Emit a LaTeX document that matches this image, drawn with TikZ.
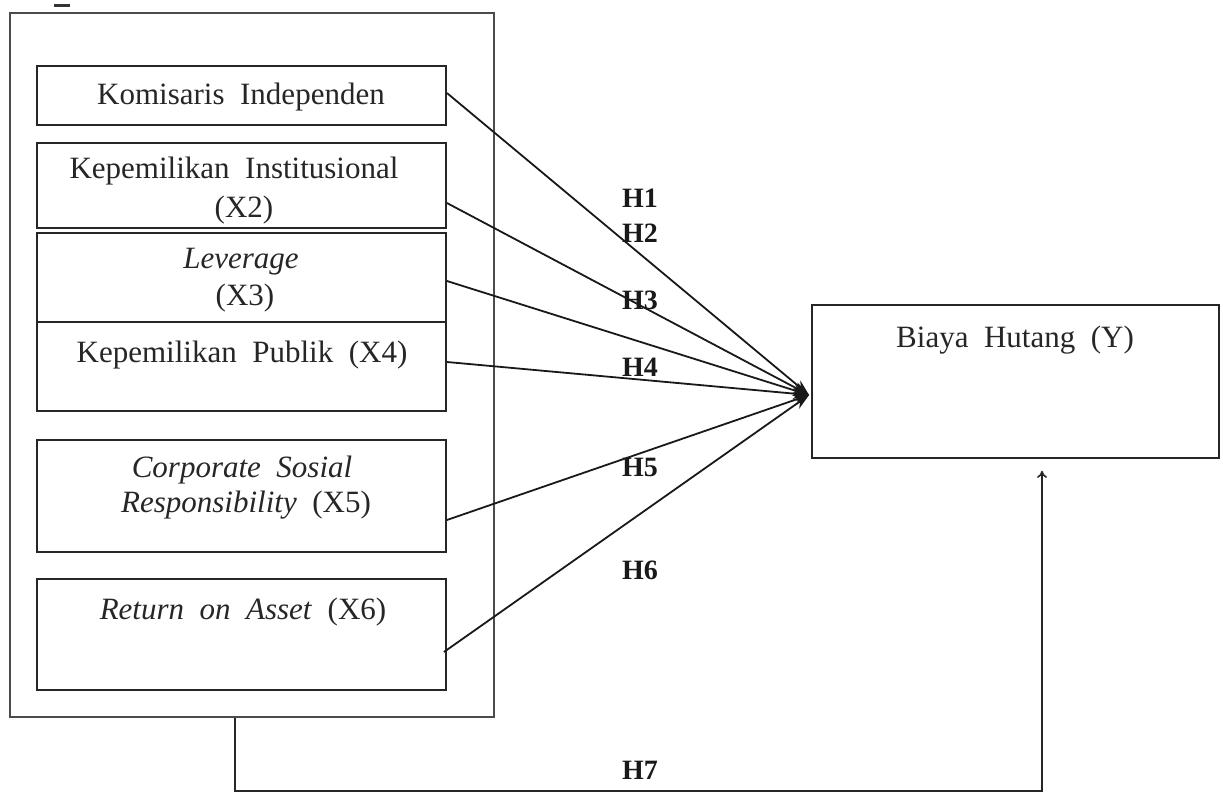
\documentclass[tikz,border=0pt]{standalone}
\usepackage{fontspec}
\setmainfont{Liberation Serif}
\usetikzlibrary{arrows.meta,calc}
\begin{document}
\begin{tikzpicture}[x=1pt,y=-1pt,
  box/.style={draw=black!85,line width=1.8pt,inner sep=0pt,minimum width=409pt},
  txt/.style={font=\fontsize{31}{34}\selectfont,inner sep=0pt,anchor=center,text=black!85},
  hlab/.style={font=\fontsize{28}{30}\selectfont\bfseries,inner sep=0pt,anchor=center,text=black!90},
  conn/.style={line width=1.8pt,draw=black!90,-{Stealth[length=16pt,width=11pt]}},
  thin/.style={line width=1.6pt,draw=black!85}]
\useasboundingbox (0,0) rectangle (1223,794);
% outer frame
\node[draw=black!70,line width=2.2pt,minimum width=484pt,minimum height=704pt,inner sep=0pt] (outer) at (252,365) {};
\draw[line width=3pt,black!80] (54,6) -- (70,6);
% boxes
\node[box,minimum height=59pt] (b1) at (241.5,95.5) {};
\node[box,minimum height=85pt] (b2) at (241.5,185.5) {};
\node[box,minimum height=89pt] (b3) at (241.5,277.5) {};
\node[box,minimum height=89pt] (b4) at (241.5,366.5) {};
\node[box,minimum height=112pt] (b5) at (241.5,496) {};
\node[box,minimum height=111pt] (b6) at (241.5,634.5) {};
\node[draw=black!85,line width=1.8pt,inner sep=0pt,minimum width=407pt,minimum height=153pt] (y) at (1015.5,381.5) {};
% texts
\node[txt] (t1) at (241,97) {Komisaris\ \ Independen};
\node[txt] (t2a) at (234,171) {Kepemilikan\ \ Institusional};
\node[txt] (t2b) at (244,210) {(X2)};
\node[txt] (t3a) at (241,262) {\itshape Leverage};
\node[txt] (t3b) at (245,298) {(X3)};
\node[txt] (t4) at (242,355) {Kepemilikan\ \ Publik\ \ (X4)};
\node[txt] (t5a) at (242,470) {\itshape Corporate\ \ Sosial};
\node[txt] (t5b) at (246,505) {\textit{Responsibility}\ \ (X5)};
\node[txt] (t6) at (243,612) {\textit{Return\ \ on\ \ Asset}\ \ (X6)};
\node[txt] (ty) at (1015,340) {Biaya\ \ Hutang\ \ (Y)};
% target
\coordinate (tip) at ($(y.west)+(-2,13.5)$);
\draw[conn] ($(b1.east)+(0,-2.5)$) -- (tip);
\draw[conn] ($(b2.east)+(0,17.5)$) -- (tip);
\draw[conn] ($(b3.east)+(0,3.5)$) -- (tip);
\draw[conn] ($(b4.east)+(0,-4.5)$) -- (tip);
\draw[conn] ($(b5.east)+(0,24)$) -- (tip);
\draw[conn] ($(b6.east)+(-3,17.5)$) -- (tip);
% labels
\node[hlab] (h1) at (640,198) {H1};
\node[hlab] (h2) at (640,233) {H2};
\node[hlab] (h3) at (640,300) {H3};
\node[hlab] (h4) at (640,367) {H4};
\node[hlab] (h5) at (640,467) {H5};
\node[hlab] (h6) at (640,570) {H6};
\node[hlab] (h7) at (640,770) {H7};
% bottom connector
\coordinate (c1) at (outer.south -| 235,0);
\coordinate (c2) at (235,791);
\coordinate (c3) at (1042,791);
\coordinate (c4) at ($(y.south -| 1042,0)+(0,12)$);
\draw[thin,-{To[length=7pt,width=10pt]}] (c1) -- (c2) -- (c3) -- (c4);
\end{tikzpicture}
\end{document}
